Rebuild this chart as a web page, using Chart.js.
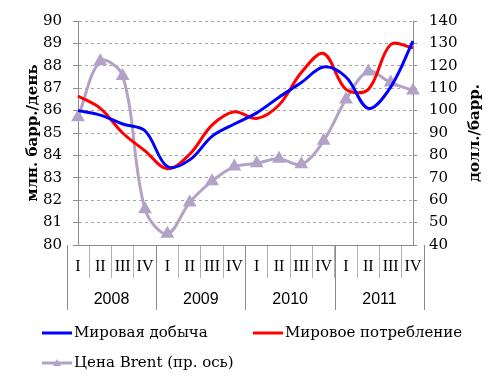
<!DOCTYPE html>
<html><head><meta charset="utf-8">
<script src="https://cdn.jsdelivr.net/npm/chart.js@4/dist/chart.umd.min.js"></script>
<style>html,body{margin:0;padding:0;background:#fff}</style>
</head><body>
<canvas id="c" width="500" height="382"></canvas>
<script>
const quarterLabels = ['I','II','III','IV','I','II','III','IV','I','II','III','IV','I','II','III','IV'];
const years = ['2008','2009','2010','2011'];
const production = [86.0, 85.8, 85.4, 85.1, 83.5, 83.8, 84.85, 85.4, 85.9, 86.6, 87.25, 87.95, 87.5, 86.1, 87.05, 89.1];
const consumption = [86.65, 86.1, 85.0, 84.2, 83.4, 84.05, 85.35, 85.95, 85.65, 86.25, 87.7, 88.55, 86.95, 86.95, 88.95, 88.8];
const brent = [97, 122, 115.5, 56, 45, 59, 68.5, 75, 76.5, 78.5, 76, 86.5, 105, 117.5, 112.5, 109];
const seriesNames = ['Мировая добыча', 'Мировое потребление', 'Цена Brent (пр. ось)'];
const leftTitle = 'млн. барр./день';
const rightTitle = 'долл./барр.';

const SERIF = "'DejaVu Serif', serif";
const AXIS = '#8c8c8c';
const GRID = '#a6a6a6';

const yearAxis = {
  id: 'yearAxis',
  afterDraw(chart) {
    const xs = chart.scales.x, ctx = chart.ctx;
    const half = (xs.getPixelForValue(1) - xs.getPixelForValue(0)) / 2;
    ctx.save();
    ctx.strokeStyle = AXIS; ctx.lineWidth = 1;
    for (let g = 0; g <= years.length; g++) {
      const idx = g * 4;
      const px = idx < quarterLabels.length ? xs.getPixelForValue(idx) - half : xs.getPixelForValue(idx - 1) + half;
      const p = Math.round(px) + 0.5;
      ctx.beginPath(); ctx.moveTo(p, xs.top); ctx.lineTo(p, xs.bottom); ctx.stroke();
    }
    ctx.fillStyle = '#000';
    ctx.font = "16px 'Liberation Sans', sans-serif";
    ctx.textAlign = 'center'; ctx.textBaseline = 'middle';
    years.forEach((y, g) => {
      const cx = (xs.getPixelForValue(g * 4) + xs.getPixelForValue(g * 4 + 3)) / 2;
      ctx.fillText(y, cx, xs.bottom - 10);
    });
    // right axis title, reading bottom-to-top like the left one
    const ys = chart.scales.y1;
    ctx.save();
    ctx.translate(ys.right - 25, (ys.top + ys.bottom) / 2);
    ctx.rotate(-Math.PI / 2);
    ctx.font = 'bold 15px ' + SERIF;
    ctx.fillText(rightTitle, 0, 0);
    ctx.restore();
    ctx.restore();
  }
};

const customLegend = {
  id: 'customLegend',
  afterDraw(chart) {
    const ctx = chart.ctx;
    const H = chart.height;
    const pos = [[42, H - 49], [253, H - 49], [42, H - 19]];
    ctx.save();
    ctx.font = '15px ' + SERIF;
    ctx.textBaseline = 'middle'; ctx.textAlign = 'left';
    chart.data.datasets.forEach((ds, i) => {
      const [x, y] = pos[i];
      ctx.strokeStyle = ds.borderColor; ctx.lineWidth = 3;
      ctx.beginPath(); ctx.moveTo(x, y); ctx.lineTo(x + 30, y); ctx.stroke();
      if (ds.pointStyle === 'triangle') {
        ctx.fillStyle = ds.borderColor;
        ctx.beginPath(); ctx.moveTo(x + 15, y - 4); ctx.lineTo(x + 19, y + 3); ctx.lineTo(x + 11, y + 3); ctx.closePath(); ctx.fill();
      }
      ctx.fillStyle = '#000';
      ctx.fillText(ds.label, x + 32, y);
    });
    ctx.restore();
  }
};

new Chart(document.getElementById('c'), {
  type: 'line',
  data: {
    labels: quarterLabels,
    datasets: [
      { label: seriesNames[0], data: production, yAxisID: 'y', borderColor: '#0000ff', borderWidth: 3, pointRadius: 0, tension: 0.35 },
      { label: seriesNames[1], data: consumption, yAxisID: 'y', borderColor: '#ff0000', borderWidth: 3, pointRadius: 0, tension: 0.35 },
      { label: seriesNames[2], data: brent, yAxisID: 'y1', borderColor: '#b3a2c7', backgroundColor: '#b3a2c7', borderWidth: 3, pointStyle: 'triangle', pointRadius: 5, tension: 0.35 }
    ]
  },
  options: {
    responsive: false,
    animation: false,
    layout: { padding: { top: 17, bottom: 72, left: 0, right: 0 } },
    plugins: { legend: { display: false }, tooltip: { enabled: false } },
    scales: {
      x: {
        grid: { offset: true, drawOnChartArea: false, drawTicks: true, tickLength: 33, color: '#b0b0b0' },
        border: { color: AXIS },
        ticks: { padding: -21, autoSkip: false, maxRotation: 0, minRotation: 0, color: '#000', font: { family: "'Liberation Serif', serif", size: 16 } },
        afterFit(s) { s.height = 65; }
      },
      y: {
        position: 'left', min: 80, max: 90,
        ticks: { stepSize: 1, padding: 11, color: '#000', font: { family: SERIF, size: 15 } },
        grid: { color: GRID, tickLength: 5, tickBorderDash: [], tickColor: AXIS },
        border: { color: AXIS, dash: [3, 3] },
        title: { display: true, text: leftTitle, color: '#000', font: { family: SERIF, size: 15, weight: 'bold' }, padding: { top: 24, bottom: 0 } },
        afterFit(s) { s.width = 78; }
      },
      y1: {
        position: 'right', min: 40, max: 140,
        ticks: { stepSize: 10, padding: 12, color: '#000', font: { family: SERIF, size: 15 } },
        grid: { drawOnChartArea: false, tickLength: 4, tickColor: AXIS },
        border: { color: AXIS },
        title: { display: false },
        afterFit(s) { s.width = 87; }
      }
    }
  },
  plugins: [yearAxis, customLegend]
});
</script>
</body></html>
